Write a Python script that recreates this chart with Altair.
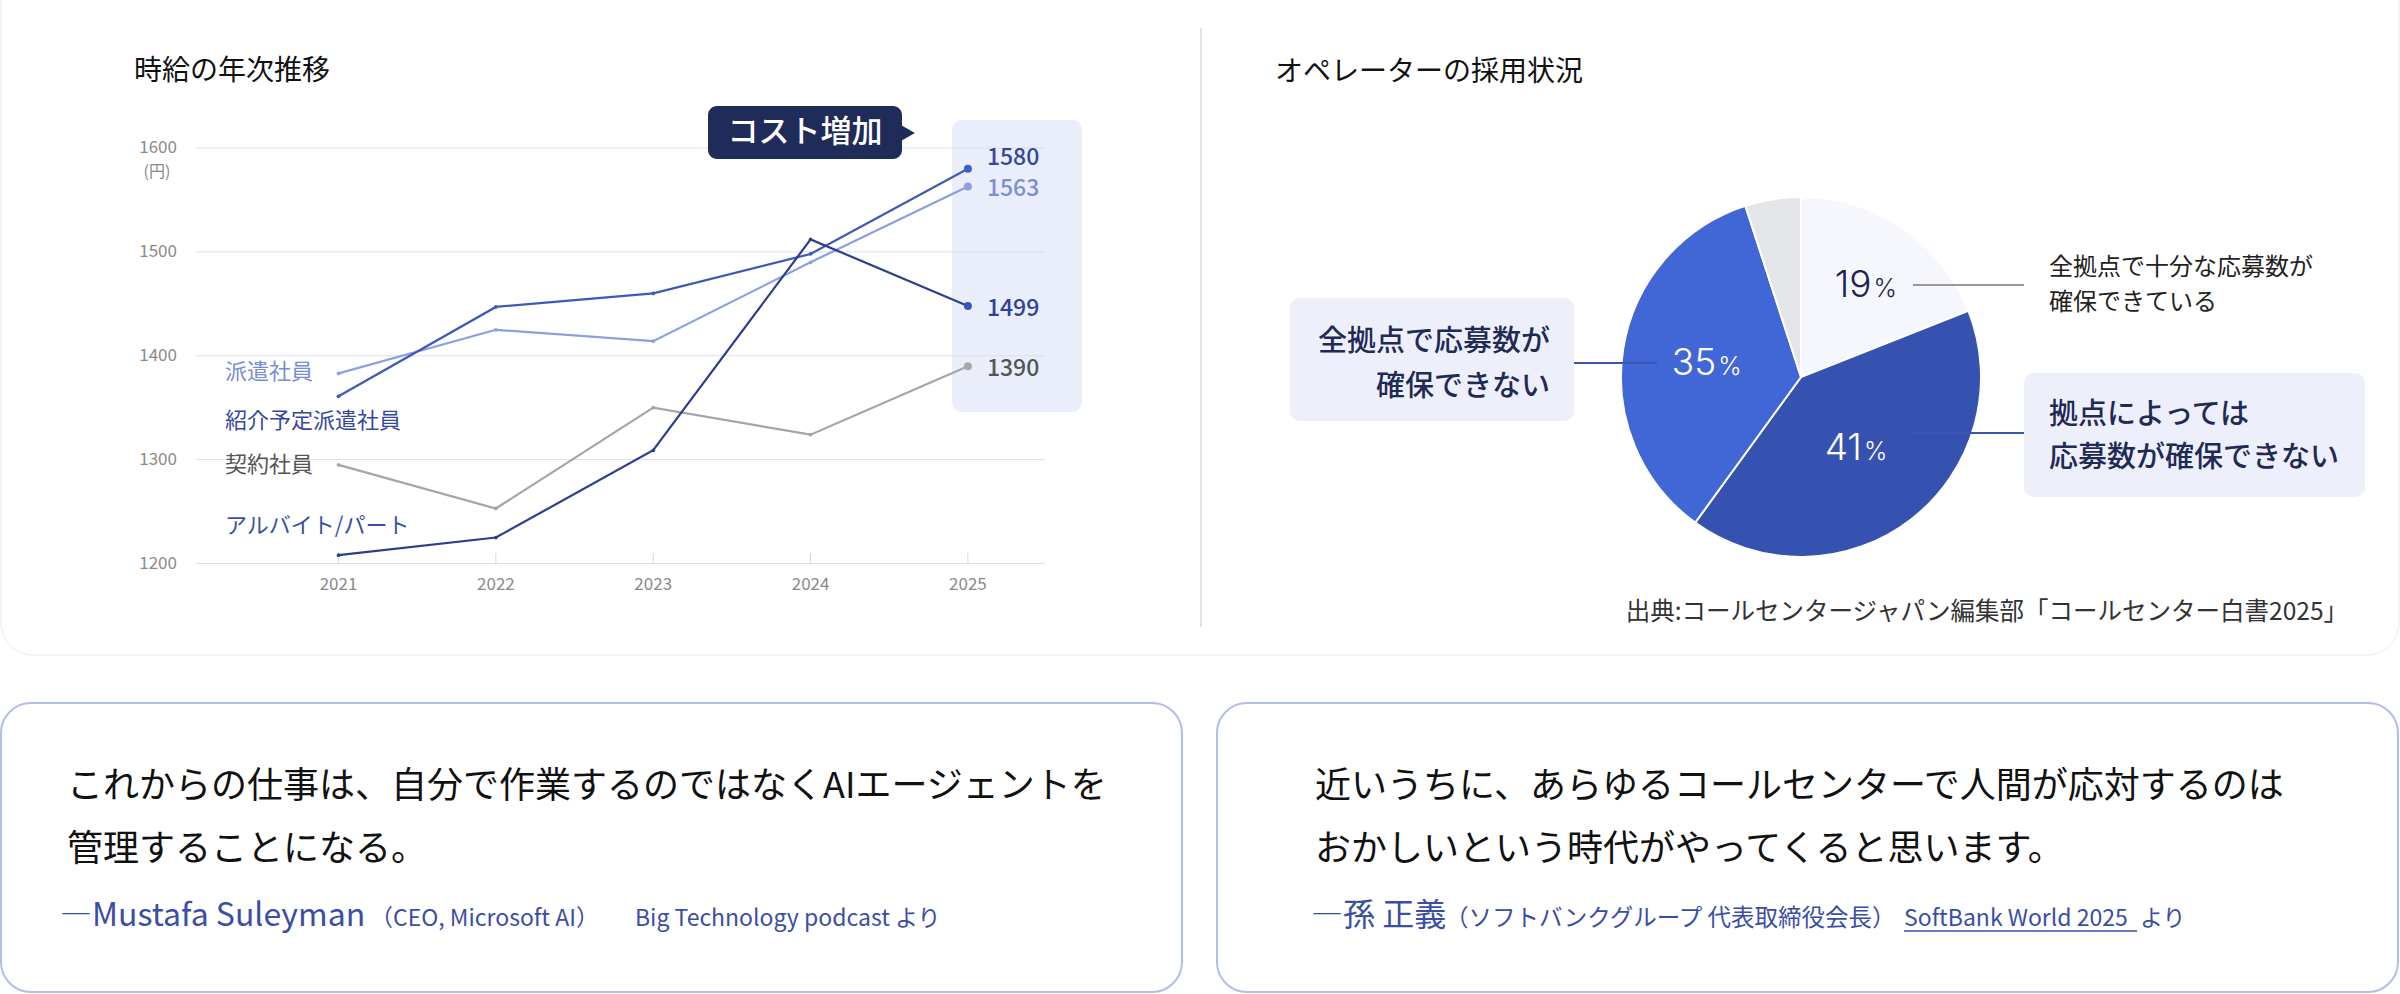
import math
import altair as alt
import pandas as pd

FONT = "Noto Sans CJK JP"

# ---------------- line chart data ----------------
years = [2021, 2022, 2023, 2024, 2025]
series_names = ["契約社員", "派遣社員", "紹介予定派遣社員", "アルバイト/パート"]
keiyaku = [1295, 1253, 1350, 1324, 1390]
haken = [1383, 1425, 1414, 1490, 1563]
shokai = [1361, 1447, 1460, 1498, 1580]
arubaito = [1208, 1225, 1309, 1512, 1448]
end_labels = ["1390", "1563", "1580", "1499"]
y_ticks = [1200, 1300, 1400, 1500, 1600]

series_colors = ["#a5a5a5", "#8c9fdf", "#3f59b8", "#2c3e8e"]
end_point_colors = ["#a8a8a8", "#8fa1dc", "#3f5fc8", "#3d55b5"]
label_colors = ["#555555", "#7d8fd3", "#34489c", "#2e4296"]

# ---------------- pie data ----------------
pie_cats = ["全拠点で十分な応募数が確保できている", "拠点によっては応募数が確保できない",
            "全拠点で応募数が確保できない", "その他"]
pie_vals = [19, 41, 35, 5]
pie_order = [1, 2, 3, 4]
pie_colors = ["#f6f7fc", "#3552b0", "#4166d6", "#e3e5e9"]

# ---------------- texts ----------------
title_left = "時給の年次推移"
title_right = "オペレーターの採用状況"
source_text = "出典:コールセンタージャパン編集部「コールセンター白書2025」"
quote1 = ["これからの仕事は、自分で作業するのではなくAIエージェントを", "管理することになる。"]
quote2 = ["近いうちに、あらゆるコールセンターで人間が応対するのは", "おかしいという時代がやってくると思います。"]

rows = []
for name, vals in zip(series_names, [keiyaku, haken, shokai, arubaito]):
    for yr, v in zip(years, vals):
        rows.append({"series": name, "year": yr, "value": v})
line_df = pd.DataFrame(rows)
end_df = pd.DataFrame({"series": series_names,
                       "year": [2025] * 4,
                       "value": [keiyaku[-1], haken[-1], shokai[-1], arubaito[-1]],
                       "lbl": end_labels})
grid_df = pd.DataFrame({"v": y_ticks, "lbl": [str(t) for t in y_ticks]})
year_df = pd.DataFrame({"year": years, "lbl": [str(y) for y in years]})
pie_df = pd.DataFrame({"cat": pie_cats, "val": pie_vals, "ord": pie_order,
                       "lbl": [str(v) for v in pie_vals]})

XS = alt.Scale(domain=[2020.094, 2025.49], range=[196, 1045], nice=False, zero=False)
YS = alt.Scale(domain=[1200, 1600], range=[563.5, 148], nice=False, zero=False)
CS = alt.Scale(domain=series_names, range=series_colors)

ONE = pd.DataFrame({"a": [0]})


def txt(s, x, y, size, color, align="left", weight=400, baseline="middle"):
    return alt.Chart(pd.DataFrame({"t": [s]})).mark_text(
        align=align, baseline=baseline, fontSize=size, font=FONT,
        fontWeight=weight, color=color
    ).encode(x=alt.value(x), y=alt.value(y), text="t:N")


def box(x1, x2, y1, y2, fill, stroke=None, sw=0, r=0):
    kw = dict(fill=fill, cornerRadius=r)
    if stroke:
        kw.update(stroke=stroke, strokeWidth=sw)
    return alt.Chart(ONE).mark_rect(**kw).encode(
        x=alt.value(x1), x2=alt.value(x2), y=alt.value(y1), y2=alt.value(y2))


def hline(x1, x2, y, color, sw):
    return alt.Chart(ONE).mark_rule(color=color, strokeWidth=sw).encode(
        x=alt.value(x1), x2=alt.value(x2), y=alt.value(y))


layers = []

# cards and divider
layers.append(box(1, 2399, -40, 655, "white", "#ebebf0", 1, 32))
layers.append(alt.Chart(ONE).mark_rule(color="#e2e2e2", strokeWidth=2).encode(
    x=alt.value(1201), y=alt.value(28), y2=alt.value(627)))
layers.append(box(1, 1182, 703, 992, "white", "#b3bde8", 2, 30))
layers.append(box(1217, 2398, 703, 992, "white", "#b3bde8", 2, 30))

# ---------------- line chart ----------------
layers.append(txt(title_left, 134, 72, 28, "#111111"))
layers.append(box(952, 1082, 120, 412, "#eaeefa", r=10))
layers.append(alt.Chart(grid_df).mark_rule(color="#dcdfe6", strokeWidth=1).encode(
    y=alt.Y("v:Q", scale=YS, axis=None), x=alt.value(196), x2=alt.value(1045)))
layers.append(alt.Chart(year_df).mark_rule(color="#d4d4d4", strokeWidth=1).encode(
    x=alt.X("year:Q", scale=XS, axis=None), y=alt.value(553), y2=alt.value(563.5)))
layers.append(alt.Chart(grid_df).mark_text(
    align="right", baseline="middle", fontSize=17, font=FONT, color="#8a8a8a").encode(
    y=alt.Y("v:Q", scale=YS, axis=None), x=alt.value(177), text="lbl:N"))
layers.append(txt("(円)", 157, 172, 16, "#8a8a8a", align="center"))
layers.append(alt.Chart(year_df).mark_text(
    align="center", baseline="middle", fontSize=17, font=FONT, color="#8a8a8a").encode(
    x=alt.X("year:Q", scale=XS, axis=None), y=alt.value(585), text="lbl:N"))

layers.append(alt.Chart(line_df).mark_line(strokeWidth=2.2).encode(
    x=alt.X("year:Q", scale=XS, axis=None),
    y=alt.Y("value:Q", scale=YS, axis=None),
    color=alt.Color("series:N", scale=CS, legend=None),
    detail="series:N"))
layers.append(alt.Chart(line_df).transform_filter(alt.datum.year < 2025).mark_circle(
    size=14, opacity=1).encode(
    x=alt.X("year:Q", scale=XS, axis=None),
    y=alt.Y("value:Q", scale=YS, axis=None),
    color=alt.Color("series:N", scale=CS, legend=None)))
layers.append(alt.Chart(end_df).mark_circle(size=64, opacity=1).encode(
    x=alt.X("year:Q", scale=XS, axis=None),
    y=alt.Y("value:Q", scale=YS, axis=None),
    color=alt.Color("series:N", scale=alt.Scale(domain=series_names, range=end_point_colors),
                    legend=None)))
LS = alt.Scale(domain=series_names, range=label_colors)
layers.append(alt.Chart(end_df).transform_filter(alt.datum.series == "紹介予定派遣社員").mark_text(
    align="left", baseline="middle", dx=19, dy=-11, fontSize=23, font=FONT, fontWeight=500).encode(
    x=alt.X("year:Q", scale=XS, axis=None), y=alt.Y("value:Q", scale=YS, axis=None),
    text="lbl:N", color=alt.Color("series:N", scale=LS, legend=None)))
layers.append(alt.Chart(end_df).transform_filter(alt.datum.series != "紹介予定派遣社員").mark_text(
    align="left", baseline="middle", dx=19, dy=3, fontSize=23, font=FONT, fontWeight=500).encode(
    x=alt.X("year:Q", scale=XS, axis=None), y=alt.Y("value:Q", scale=YS, axis=None),
    text="lbl:N", color=alt.Color("series:N", scale=LS, legend=None)))

layers.append(txt("派遣社員", 225, 372, 22, "#7a8cd4"))
layers.append(txt("紹介予定派遣社員", 225, 421, 22, "#35489e"))
layers.append(txt("契約社員", 225, 465, 22, "#555555"))
layers.append(txt("アルバイト/パート", 225, 526, 22, "#3a4fa6"))

# callout
layers.append(box(708, 902, 106, 159, "#1f2b58", r=9))
layers.append(alt.Chart(ONE).mark_point(shape="triangle-right", filled=True, size=330,
                                        color="#1f2b58", opacity=1).encode(
    x=alt.value(907), y=alt.value(133)))
layers.append(txt("コスト増加", 805, 133, 31, "white", align="center", weight=500))

# ---------------- pie ----------------
layers.append(txt(title_right, 1275, 73, 28, "#111111"))
layers.append(alt.Chart(pie_df).mark_arc(outerRadius=180, stroke="white", strokeWidth=2).encode(
    theta=alt.Theta("val:Q", stack=True, scale=alt.Scale(domain=[0, 100])),
    order=alt.Order("ord:Q"),
    color=alt.Color("cat:N", scale=alt.Scale(domain=pie_cats, range=pie_colors), legend=None),
    x=alt.value(1801), y=alt.value(377)))


def pct_layer(k, r, color):
    base = alt.Chart(pie_df).transform_window(
        cum="sum(val)", sort=[alt.SortField("ord")]
    ).transform_calculate(mid="datum.cum - datum.val / 2").transform_filter(alt.datum.ord == k)
    enc = dict(theta=alt.Theta("mid:Q", scale=alt.Scale(domain=[0, 100], range=[0, 2 * math.pi])),
               x=alt.value(1801), y=alt.value(377))
    num = base.mark_text(radius=r, align="right", baseline="alphabetic", dx=7, dy=13,
                         fontSize=37, font="Inter", fontWeight=300, color=color).encode(
        text="lbl:N", **enc)
    pct = base.mark_text(radius=r, align="left", baseline="alphabetic", dx=9, dy=13,
                         fontSize=25, font="Inter", fontWeight=300, color=color).encode(
        text=alt.value("%"), **enc)
    return [num, pct]


layers += pct_layer(1, 113, "#1c2550")
layers += pct_layer(2, 88, "white")
layers += pct_layer(3, 93, "white")

layers.append(hline(1913, 2024, 285, "#9a9a9a", 2))
layers.append(hline(1913, 2024, 433, "#3d55b0", 2))
layers.append(hline(1574, 1657, 363, "#3d55b0", 2))

layers.append(txt("全拠点で十分な応募数が", 2049, 268, 24, "#222222"))
layers.append(txt("確保できている", 2049, 303, 24, "#222222"))
layers.append(box(2024, 2365, 373, 497, "#edf0fa", r=10))
layers.append(txt("拠点によっては", 2049, 415, 29, "#1f2a55", weight=500))
layers.append(txt("応募数が確保できない", 2049, 458, 29, "#1f2a55", weight=500))
layers.append(box(1290, 1574, 298, 421, "#edf0fa", r=10))
layers.append(txt("全拠点で応募数が", 1550, 342, 29, "#1f2a55", align="right", weight=500))
layers.append(txt("確保できない", 1550, 387, 29, "#1f2a55", align="right", weight=500))

layers.append(txt(source_text, 2348, 613, 24.5, "#333333", align="right"))

# ---------------- quotes ----------------
layers.append(txt(quote1[0], 67, 787, 36, "#111111"))
layers.append(txt(quote1[1], 67, 850, 36, "#111111"))
layers.append(txt("―Mustafa Suleyman", 60, 926, 32, "#3a4ea6", baseline="alphabetic"))
layers.append(txt("（CEO, Microsoft AI）", 370, 926, 23, "#3a4ea6", baseline="alphabetic"))
layers.append(txt("Big Technology podcast より", 635, 926, 23, "#3a4ea6", baseline="alphabetic"))

layers.append(txt(quote2[0], 1315, 787, 36, "#111111"))
layers.append(txt(quote2[1], 1315, 850, 36, "#111111"))
layers.append(txt("―孫 正義", 1311, 926, 32, "#3a4ea6", baseline="alphabetic"))
layers.append(txt("（ソフトバンクグループ 代表取締役会長）", 1445, 926, 23.5, "#3a4ea6", baseline="alphabetic"))
layers.append(txt("SoftBank World 2025", 1904, 926, 23, "#3a4ea6", baseline="alphabetic"))
layers.append(hline(1904, 2137, 931, "#3a4ea6", 1.5))
layers.append(txt("より", 2140, 926, 23, "#3a4ea6", baseline="alphabetic"))

chart = alt.layer(*layers).resolve_scale(
    color="independent", theta="independent"
).properties(
    width=2400, height=994, autosize=alt.AutoSizeParams(type="none"), padding=0,
    background="white"
).configure_view(stroke=None)

chart.save("out.html", embed_options={"renderer": "svg", "actions": False})
